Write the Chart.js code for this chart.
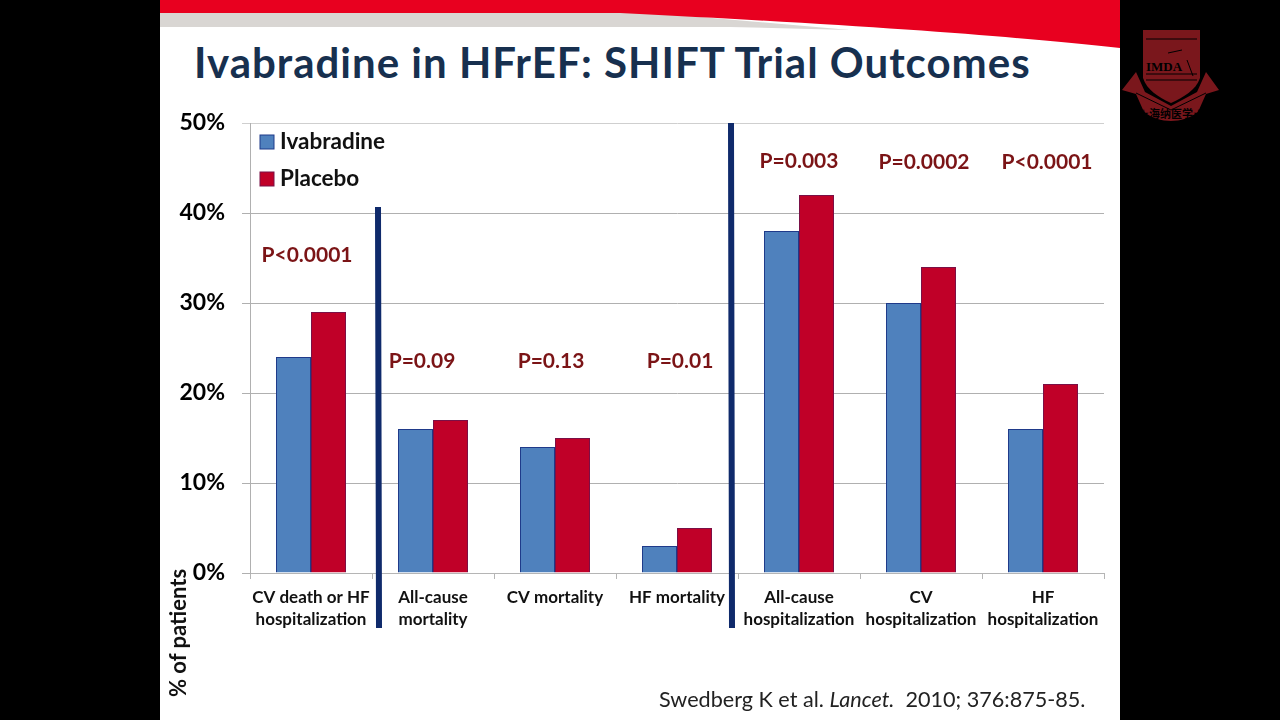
<!DOCTYPE html>
<html>
<head>
<meta charset="utf-8">
<title>Ivabradine in HFrEF: SHIFT Trial Outcomes</title>
<script src="https://cdn.jsdelivr.net/npm/chart.js@4/dist/chart.umd.min.js"></script>
<style>
html, body { margin: 0; padding: 0; background: #000; }
#stage { position: relative; width: 1280px; height: 720px; overflow: hidden; background: #000; font-family: Lato, "Open Sans", sans-serif; }
#slide { position: absolute; left: 160px; top: 0; width: 960px; height: 720px; background: #fff; }
#deco { position: absolute; left: 0; top: 0; }
#title { position: absolute; left: 194px; top: 36px; margin: 0; font-size: 42px; line-height: 52px; font-weight: 700; color: #17304f; white-space: nowrap; letter-spacing: 1px; }
#cite { position: absolute; left: 659px; top: 686px; font-size: 21.6px; line-height: 26px; color: #222; white-space: nowrap; }
#ytitle { position: absolute; left: 178px; top: 697px; font-size: 22px; line-height: 22px; font-weight: 700; color: #111; white-space: nowrap; transform-origin: 0 0; transform: translate(-11px, 0) rotate(-90deg); }
#chart { position: absolute; left: 0; top: 0; }
</style>
</head>
<body>
<div id="stage">
  <div id="slide"></div>
  <svg id="deco" width="1280" height="720" viewBox="0 0 1280 720">
    <path d="M160 10 H620 L850 30 L730 27 H160 Z" fill="#d9d6d3"/>
    <path d="M160 0 H1120 V48 C1020 37 880 26 620 13 H160 Z" fill="#e8001f"/>
    <g fill="#7a171c">
      <path d="M1143 30 H1200 V78 C1196 90 1184 97 1171 103 C1158 97 1147 90 1143 78 Z"/>
      <path d="M1122 90 L1136 72 L1145 92 L1171 106 L1197 92 L1206 72 L1219 90 L1206 94 L1198 112 C1182 124 1160 124 1144 112 L1136 94 Z"/>
    </g>
    <g fill="none" stroke="#000" stroke-width="1">
      <path d="M1146 39 H1197 M1146 74 H1197 M1146 80 H1197"/>
      <path d="M1136 93 L1171 110 L1206 93"/>
      <path d="M1168 53 L1182 50 M1187 60 L1193 76"/>
    </g>
    <text x="1164" y="71" font-family="Liberation Serif" font-size="13" font-weight="700" fill="#000" text-anchor="middle">IMDA</text>
    <text x="1171" y="118" font-family="Noto Sans CJK SC" font-size="11" font-weight="700" fill="#000" text-anchor="middle">★海纳医学★</text>
  </svg>
  <h1 id="title">Ivabradine in HFrEF: SHIFT Trial Outcomes</h1>
  <canvas id="chart" width="1280" height="720"></canvas>
  <div id="ytitle">% of patients</div>
  <div id="cite">Swedberg K et al. <i>Lancet.</i>&nbsp; 2010; 376:875-85.</div>
</div>
<script>
// data
const categories = [
    ['CV death or HF', 'hospitalization'],
    ['All-cause', 'mortality'],
    'CV mortality',
    'HF mortality',
    ['All-cause', 'hospitalization'],
    ['CV', 'hospitalization'],
    ['HF', 'hospitalization']
];
const ivabradine = [24, 16, 14, 3, 38, 30, 16];
const placebo = [29, 17, 15, 5, 42, 34, 21];
const yTicks = [0, 10, 20, 30, 40, 50];
const pValues = ['P<0.0001', 'P=0.09', 'P=0.13', 'P=0.01', 'P=0.003', 'P=0.0002', 'P<0.0001'];
const pHeights = [35.3, 23.5, 23.5, 23.5, 45.7, 45.6, 45.6];
const pShift = [-4, -11, -4, 3, 0, 3, 4];

const BASE_FONT = 'Lato, "Open Sans", sans-serif';

// legend, p values and the two thick divider lines
const extras = {
    id: 'extras',
    afterDatasetsDraw(chart) {
        const { ctx, scales } = chart;
        ctx.save();

        ctx.textBaseline = 'middle';
        ctx.textAlign = 'left';
        ctx.font = `700 22.5px ${BASE_FONT}`;
        chart.data.datasets.forEach((ds, i) => {
            const y = 142 + i * 37;
            ctx.fillStyle = ds.backgroundColor;
            ctx.strokeStyle = ds.borderColor;
            ctx.lineWidth = 1;
            ctx.fillRect(260, y - 7, 14, 14);
            ctx.strokeRect(260, y - 7, 14, 14);
            ctx.fillStyle = '#111';
            ctx.fillText(ds.label, 280, y);
        });

        ctx.font = `700 21px ${BASE_FONT}`;
        ctx.fillStyle = '#7b1416';
        ctx.textAlign = 'center';
        pValues.forEach((p, i) => {
            ctx.fillText(p, scales.x.getPixelForValue(i) + pShift[i], scales.y.getPixelForValue(pHeights[i]));
        });

        ctx.strokeStyle = '#0f2a6b';
        ctx.lineWidth = 6;
        ctx.beginPath();
        ctx.moveTo(378, 207);
        ctx.lineTo(379, 628);
        ctx.moveTo(731, 123);
        ctx.lineTo(732, 628);
        ctx.stroke();
        ctx.restore();
    }
};

new Chart(document.getElementById('chart'), {
    type: 'bar',
    data: {
        labels: categories,
        datasets: [
            { label: 'Ivabradine', data: ivabradine, backgroundColor: '#4f81bd', borderColor: '#1f3a8a', borderWidth: 1 },
            { label: 'Placebo', data: placebo, backgroundColor: '#c00028', borderColor: '#7a1046', borderWidth: 1 }
        ]
    },
    options: {
        responsive: false,
        animation: false,
        layout: { padding: { left: 160, right: 176, top: 123, bottom: 0 } },
        datasets: { bar: { barPercentage: 1, categoryPercentage: 0.574 } },
        scales: {
            x: {
                afterFit(s) { s.height = 147; },
                grid: { display: true, drawOnChartArea: false, drawTicks: true, tickLength: 6, color: '#b5b5b5' },
                border: { color: '#b5b5b5' },
                ticks: {
                    autoSkip: false, maxRotation: 0, minRotation: 0, padding: 7, color: '#111',
                    font: { family: BASE_FONT, size: 17, weight: '700', lineHeight: 1.33 }
                }
            },
            y: {
                min: 0, max: 50,
                afterFit(s) { s.width = 90; },
                afterBuildTicks(s) { s.ticks = yTicks.map(v => ({ value: v })); },
                grid: { color: c => c.tick.value === 50 ? '#cfcfcf' : '#b0b0b0', tickLength: 8 },
                border: { color: '#b0b0b0' },
                ticks: {
                    padding: 17, color: '#000',
                    font: { family: BASE_FONT, size: 23, weight: '700' },
                    callback: v => v + '%'
                }
            }
        },
        plugins: {
            tooltip: { enabled: false },
            legend: { display: false }
        }
    },
    plugins: [extras]
});
</script>
</body>
</html>
